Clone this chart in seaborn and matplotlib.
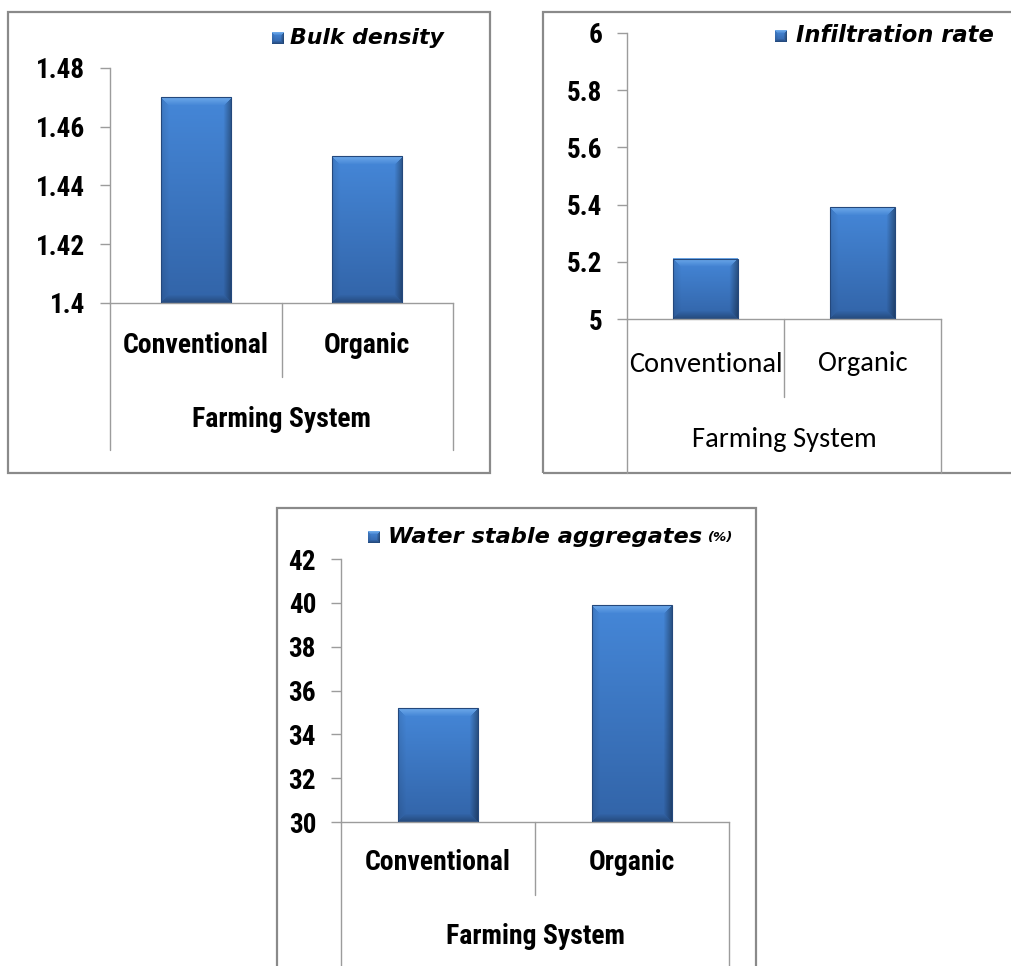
import numpy as np
import pandas as pd
import matplotlib
matplotlib.use("Agg")
import matplotlib.pyplot as plt
import matplotlib.transforms as mtransforms
import matplotlib.font_manager as fm
from matplotlib.patches import Rectangle
from matplotlib.lines import Line2D
import seaborn as sns

# ---- data -------------------------------------------------------------
categories = ["Conventional", "Organic"]
group_label = "Farming System"

bulk_density = [1.47, 1.45]
bulk_ticks = [1.40, 1.42, 1.44, 1.46, 1.48]
bulk_ticklabels = ["1.4", "1.42", "1.44", "1.46", "1.48"]

infiltration_rate = [5.21, 5.39]
infil_ticks = [5.0, 5.2, 5.4, 5.6, 5.8, 6.0]
infil_ticklabels = ["5", "5.2", "5.4", "5.6", "5.8", "6"]

water_stable_aggregates = [35.2, 39.9]
wsa_ticks = [30, 32, 34, 36, 38, 40, 42]
wsa_ticklabels = ["30", "32", "34", "36", "38", "40", "42"]

# ---- fonts ------------------------------------------------------------
sns.set_theme(style="white")
_names = {f.name for f in fm.fontManager.ttflist}


def pick(cands, default="DejaVu Sans"):
    for c in cands:
        if c in _names:
            return c
    return default


NARROW = pick(["Roboto Condensed", "PT Sans Narrow", "Liberation Sans"])
HUMAN = pick(["Carlito", "Lato", "Open Sans"])
LEGEND = "DejaVu Sans"
plt.rcParams["font.family"] = [NARROW, "DejaVu Sans"]

GRAY = "#9c9c9c"
FRAME = "#8a8a8a"

W, H = 1011, 966
fig = plt.figure(figsize=(W / 100, H / 100), dpi=100)
fig.patch.set_facecolor("white")


def fig_rect(x0, y0, x1, y1):
    return [x0 / W, 1 - y1 / H, (x1 - x0) / W, (y1 - y0) / H]


def fy(ypx):
    return 1 - ypx / H


def fx(xpx):
    return xpx / W


def bevel_image(w, h, b=8):
    """RGB array of a bevelled blue block, w x h pixels."""
    w = max(int(w), 2)
    h = max(int(h), 2)
    i = np.arange(h)[:, None] * np.ones((1, w))
    j = np.arange(w)[None, :] * np.ones((h, 1))
    t = i / (h - 1)
    top_c = np.array([0x45, 0x87, 0xD8]) / 255
    bot_c = np.array([0x32, 0x64, 0xA8]) / 255
    img = top_c * (1 - t)[..., None] + bot_c * t[..., None]
    d = np.stack([i, h - 1 - i, j, w - 1 - j])
    side = d.argmin(0)
    dmin = d.min(0)
    inside = dmin < b
    k = (1 - dmin / b)[..., None]
    light = np.array([0x86, 0xBE, 0xF4]) / 255
    top = inside & (side == 0)
    img[top] = (img * (1 - 0.6 * k) + light * 0.6 * k)[top]
    bot = inside & (side == 1)
    img[bot] = (img * (1 - 0.25 * k))[bot]
    left = inside & (side == 2)
    img[left] = (img * (1 - 0.10 * k))[left]
    right = inside & (side == 3)
    img[right] = (img * (1 - 0.35 * k))[right]
    return np.clip(img, 0, 1)


panels = [
    dict(values=bulk_density, ticks=bulk_ticks, ticklabels=bulk_ticklabels,
         legend="Bulk density", unit=None,
         frame=(8, 12, 490, 473), plot=(110, 68, 453, 303),
         div_end=377, side_end=450, cat_y=345, grp_y=420,
         legend_box=(272, 32), legend_x=290, legend_y=38, legend_size=15.8,
         cat_font=NARROW, cat_weight="bold", cat_size=20),
    dict(values=infiltration_rate, ticks=infil_ticks, ticklabels=infil_ticklabels,
         legend="Infiltration rate", unit=None,
         frame=(543, 12, 1014, 473), plot=(627, 33, 941, 319),
         div_end=397, side_end=473, cat_y=364, grp_y=440,
         legend_box=(775, 30), legend_x=796, legend_y=36, legend_size=16.3,
         cat_font=HUMAN, cat_weight="normal", cat_size=20.5),
    dict(values=water_stable_aggregates, ticks=wsa_ticks, ticklabels=wsa_ticklabels,
         legend="Water stable aggregates", unit="(%)",
         frame=(277, 508, 756, 975), plot=(341, 559, 729, 822),
         div_end=895, side_end=975, cat_y=862, grp_y=937,
         legend_box=(368, 531), legend_x=388, legend_y=537, legend_size=16.2,
         cat_font=NARROW, cat_weight="bold", cat_size=20),
]

for P in panels:
    # outer chart frame
    x0, y0, x1, y1 = P["frame"]
    fig.add_artist(Rectangle((fx(x0), fy(y1)), (x1 - x0) / W, (y1 - y0) / H,
                             transform=fig.transFigure, fill=False,
                             edgecolor=FRAME, linewidth=1.6, zorder=0))

    px0, py0, px1, py1 = P["plot"]
    ax = fig.add_axes(fig_rect(px0, py0, px1, py1))
    ax.set_facecolor("none")

    df = pd.DataFrame({"system": categories, "value": P["values"]})
    sns.barplot(data=df, x="system", y="value", ax=ax, width=0.41,
                color="#3A74C0", saturation=1, edgecolor="#24487C",
                linewidth=0.8, errorbar=None)
    ylo, yhi = P["ticks"][0], P["ticks"][-1]
    ax.set_ylim(ylo, yhi)
    ax.set_xlim(-0.5, len(categories) - 0.5)

    # bevelled shading on each bar
    for p in list(ax.patches):
        bx, bw = p.get_x(), p.get_width()
        by0 = max(p.get_y(), ylo)
        by1 = p.get_y() + p.get_height()
        (dx0, dy0) = ax.transData.transform((bx, by0))
        (dx1, dy1) = ax.transData.transform((bx + bw, by1))
        img = bevel_image(round(dx1 - dx0), round(dy1 - dy0))
        ax.imshow(img, extent=[bx, bx + bw, by0, by1], aspect="auto",
                  interpolation="bilinear", zorder=2)
        p.set_facecolor("none")
        p.set_zorder(3)
    ax.set_ylim(ylo, yhi)
    ax.set_xlim(-0.5, len(categories) - 0.5)

    # axes styling
    for s in ["top", "right"]:
        ax.spines[s].set_visible(False)
    for s in ["left", "bottom"]:
        ax.spines[s].set_color(GRAY)
        ax.spines[s].set_linewidth(1.0)
    ax.set_yticks(P["ticks"])
    ax.set_yticklabels(P["ticklabels"], fontfamily=NARROW, fontweight="bold",
                       fontsize=19.5, color="black")
    ax.tick_params(axis="y", length=7, width=1.0, color=GRAY, pad=11, left=True)
    ax.set_xticks([])
    ax.set_xlabel("")
    ax.set_ylabel("")

    # category table below the plot
    ybase = fy(py1)
    for xp, yend in [(px0, P["side_end"]), ((px0 + px1) / 2, P["div_end"]),
                     (px1, P["side_end"])]:
        fig.add_artist(Line2D([fx(xp), fx(xp)], [ybase, fy(yend)],
                              transform=fig.transFigure, color=GRAY, lw=1.0))
    tr = mtransforms.blended_transform_factory(ax.transData, fig.transFigure)
    for k, c in enumerate(categories):
        ax.text(k, fy(P["cat_y"]), c, transform=tr, ha="center", va="center",
                fontfamily=P["cat_font"], fontweight=P["cat_weight"],
                fontsize=P["cat_size"], color="black", clip_on=False)
    fig.text(fx((px0 + px1) / 2), fy(P["grp_y"]), group_label, ha="center",
             va="center", fontfamily=P["cat_font"], fontweight=P["cat_weight"],
             fontsize=P["cat_size"], color="black")

    # legend entry
    lx, ly = P["legend_box"]
    lax = fig.add_axes(fig_rect(lx, ly, lx + 12, ly + 12))
    lax.imshow(bevel_image(12, 12, b=3), aspect="auto", interpolation="bilinear")
    lax.set_axis_off()
    t = fig.text(fx(P["legend_x"]), fy(P["legend_y"]), P["legend"], ha="left",
                 va="center", fontfamily=LEGEND, fontweight="bold",
                 fontstyle="oblique", fontsize=P["legend_size"], color="black")
    if P["unit"]:
        fig.canvas.draw()
        bb = t.get_window_extent()
        fig.text(fx(bb.x1 + 6), fy(P["legend_y"]), P["unit"], ha="left",
                 va="center", fontfamily=LEGEND, fontweight="bold",
                 fontstyle="oblique", fontsize=9.5, color="black")

fig.savefig("out.png", dpi=100, facecolor="white")
